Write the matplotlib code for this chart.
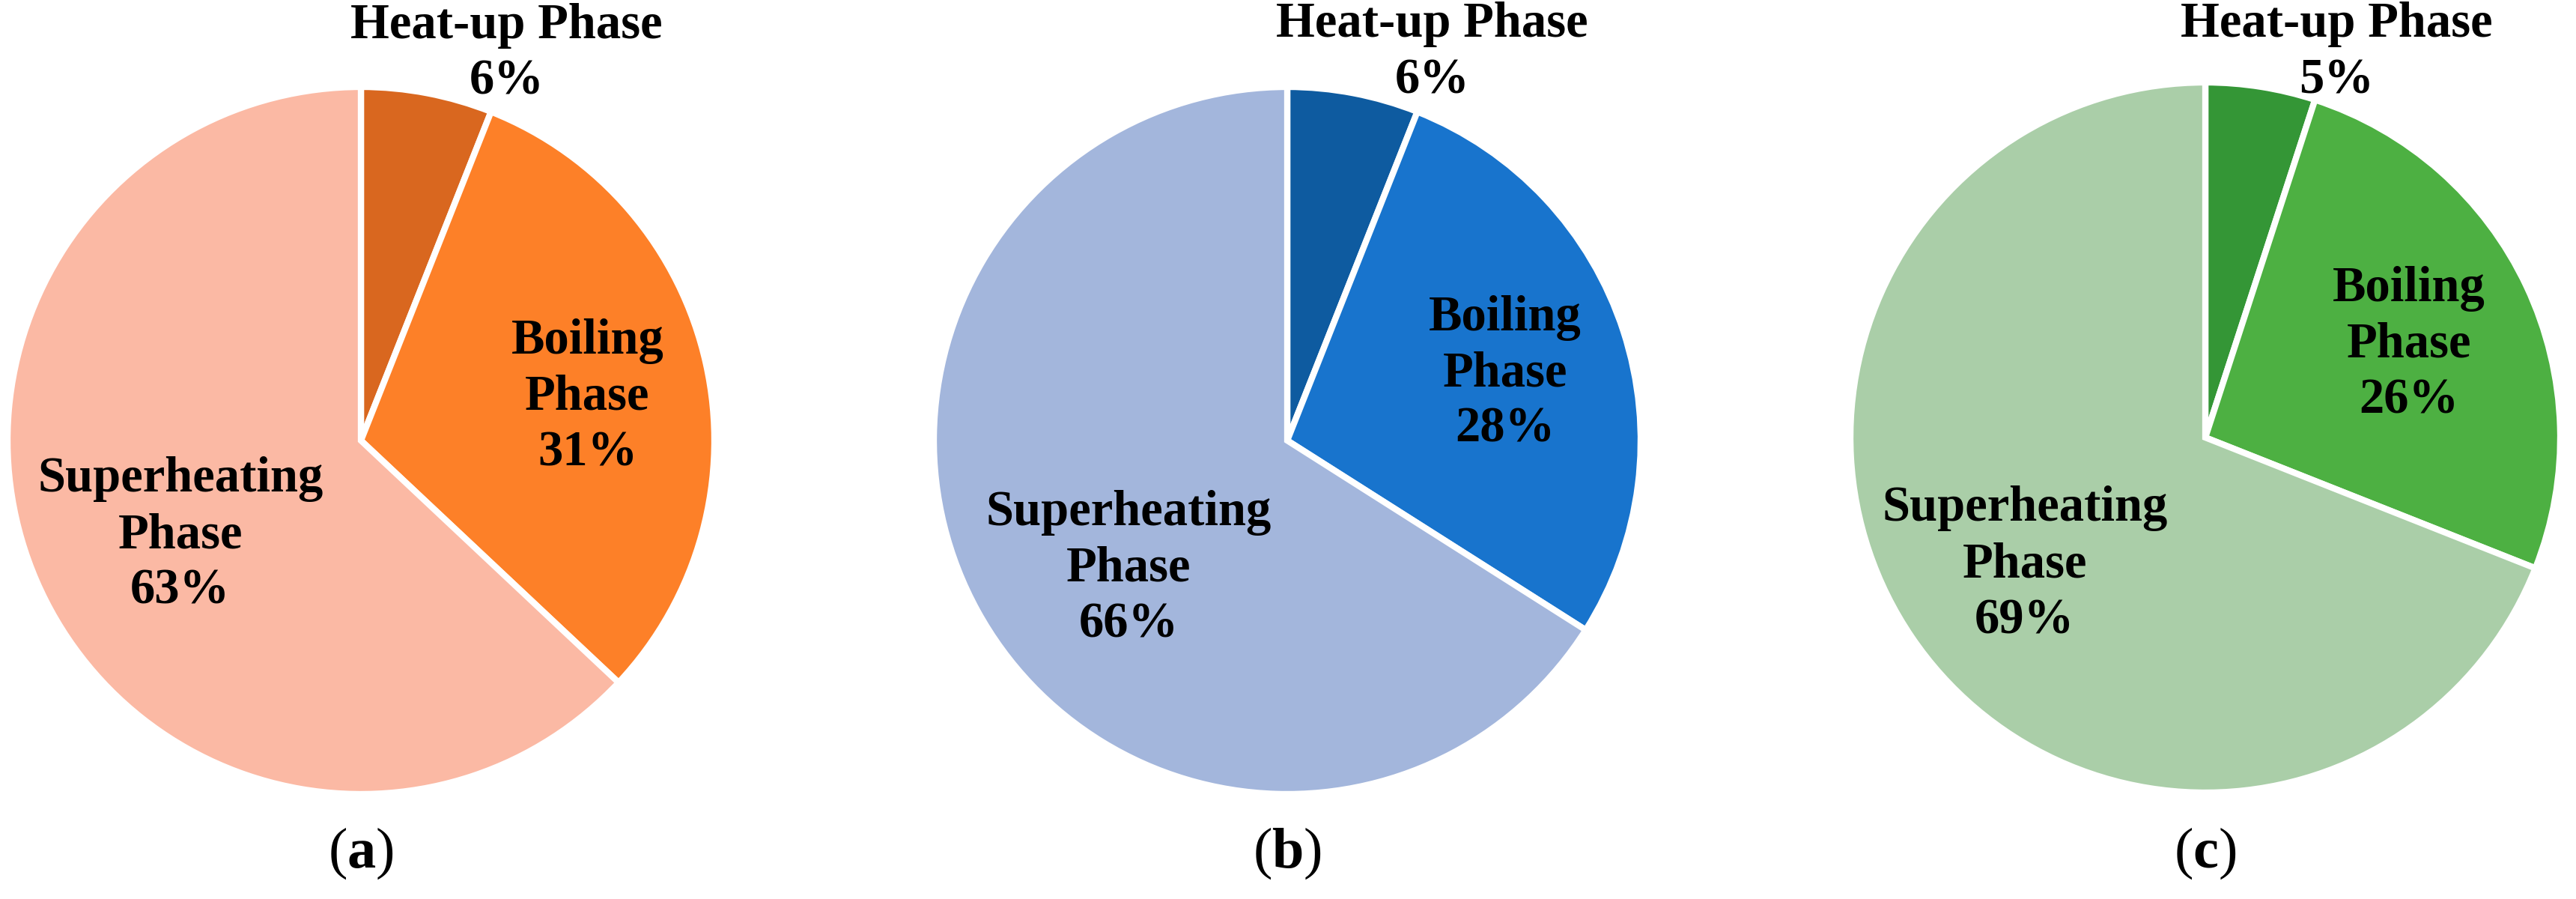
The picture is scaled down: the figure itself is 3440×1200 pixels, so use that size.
# -*- coding: utf-8 -*-
"""
Share of the heating phases for three cases (a), (b), (c)
"""

import matplotlib
matplotlib.use('Agg')
import matplotlib.pyplot as plt


#------------------------------------------------------------------------------
# Data
#------------------------------------------------------------------------------

phases      = ['Heat-up Phase', 'Boiling Phase', 'Superheating Phase']
case_names  = ['a', 'b', 'c']

share_a = [6, 31, 63]
share_b = [6, 28, 66]
share_c = [5, 26, 69]

colors_a = ['#D9671F', '#FD8028', '#FBB9A4']
colors_b = ['#0E5BA0', '#1874CD', '#A3B6DC']
colors_c = ['#349636', '#4DB042', '#AACEA8']


#------------------------------------------------------------------------------
# Layout (pixels of the 3440 x 1200 output)
#------------------------------------------------------------------------------

W, H = 3440, 1200
centers = [(482, 588, 472), (1719, 588, 472), (2945, 584, 474)]

# label anchors (data units of each pie, baseline of first line)
label_pos = [
    [(0.412, 1.137), (0.641, 0.246), (-0.511, -0.145)],
    [(0.410, 1.141), (0.616, 0.312), (-0.448, -0.240)],
    [(0.370, 1.128), (0.574, 0.385), (-0.509, -0.235)],
]
line_step = 0.158

plt.rcParams['font.family'] = ['Liberation Serif', 'DejaVu Serif']
plt.rcParams['mathtext.fontset'] = 'custom'
plt.rcParams['mathtext.rm'] = 'Liberation Serif'
plt.rcParams['mathtext.bf'] = 'Liberation Serif:bold'

fig = plt.figure(figsize=(W / 100, H / 100), dpi=100)

shares = [share_a, share_b, share_c]
colors = [colors_a, colors_b, colors_c]

for i in range(len(shares)):
    cx, cy, r = centers[i]
    ax = fig.add_axes([(cx - r) / W, (H - cy - r) / H, 2 * r / W, 2 * r / H])
    ax.pie(shares[i], colors=colors[i], startangle=90, counterclock=False,
           radius=1.0, wedgeprops=dict(edgecolor='white', linewidth=6))
    ax.set_xlim(-1, 1)
    ax.set_ylim(-1, 1)
    ax.axis('off')

    # phase labels with percentages
    for j in range(len(phases)):
        x0, y0 = label_pos[i][j]
        if j == 0:
            lines = [phases[j]]
        else:
            lines = phases[j].split(' ')
        lines = lines + [str(shares[i][j]) + '%']
        for k, line in enumerate(lines):
            ax.text(x0, y0 - k * line_step, line, ha='center', va='baseline',
                    fontsize=48, fontweight='bold', color='black',
                    clip_on=False)

    # panel label
    ax.text(0.0, (cy - 1158) / r, '(' + r'$\mathbf{' + case_names[i] + '}$' + ')',
            ha='center', va='baseline', fontsize=55, color='black',
            clip_on=False)

plt.savefig('out.png', dpi=100, facecolor='white')
